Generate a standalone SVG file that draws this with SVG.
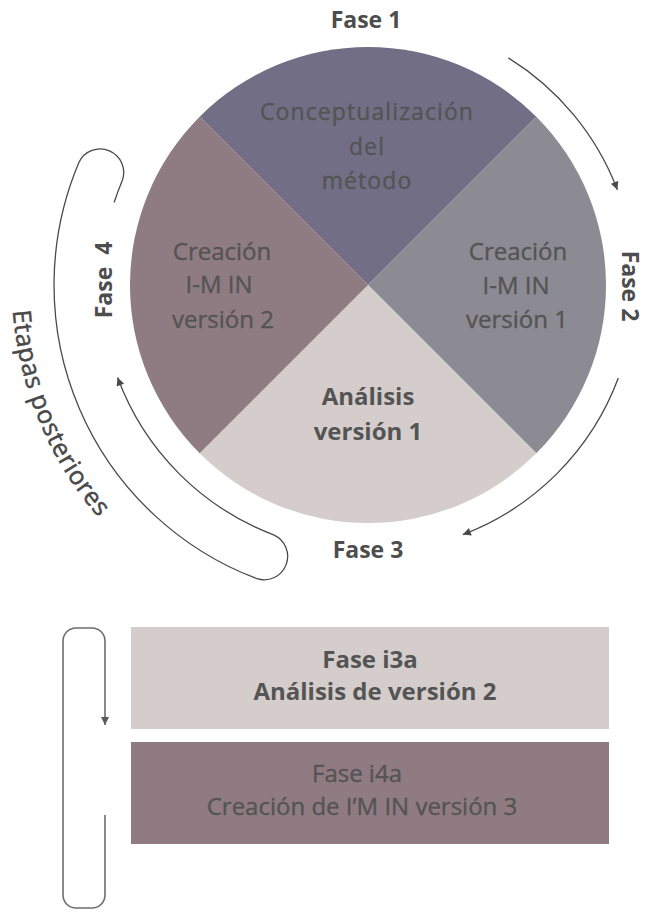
<svg xmlns="http://www.w3.org/2000/svg" width="646" height="914" viewBox="0 0 646 914">
  <style>
    .txt { font-family: "Open Sans", "Liberation Sans", sans-serif; fill: #545454; text-anchor: middle; }
    .reg { font-size: 24px; stroke: #545454; stroke-width: 0.35; }
    .bold { font-size: 24px; font-weight: bold; }
    .label { font-family: "Open Sans", "Liberation Sans", sans-serif; font-size: 23px; font-weight: bold; fill: #4d4d4d; text-anchor: middle; }
    .conn { fill: none; stroke: #4a4a4a; stroke-width: 1.3; }
    .loop { fill: none; stroke: #6e6e6e; stroke-width: 1.6; }
  </style>
  <defs>
    <marker id="arrow" viewBox="0 0 10 10" refX="10" refY="5" markerWidth="9" markerHeight="8" markerUnits="userSpaceOnUse" orient="auto">
      <path d="M0,0 L10,5 L0,10 z" fill="#4a4a4a"/>
    </marker>
    <marker id="arrow-grey" viewBox="0 0 10 10" refX="10" refY="5" markerWidth="9" markerHeight="8" markerUnits="userSpaceOnUse" orient="auto">
      <path d="M0,0 L10,5 L0,10 z" fill="#5a5a5a"/>
    </marker>
    <!-- baseline arc for the curved side label, centred on the wheel (190deg to 125deg) -->
    <path id="etapas-arc" d="M 17.4,223.2 A 356,356 0 0 0 163.8,576.6"/>
  </defs>

  <rect width="646" height="914" fill="#ffffff"/>

  <!-- wheel: four quarter sectors around (368,285), r=238 -->
  <g id="fase1">
    <path d="M368,285 L199.7,116.7 A238,238 0 0 1 536.3,116.7 Z" fill="#716e85"/>
    <text class="txt reg" x="367" y="120" style="font-size:23px;letter-spacing:1.1px">Conceptualización</text>
    <text class="txt reg" x="367" y="155" style="font-size:23px;letter-spacing:1.1px">del</text>
    <text class="txt reg" x="367" y="189" style="font-size:23px;letter-spacing:1.1px">método</text>
    <text class="label" x="366" y="28">Fase 1</text>
  </g>

  <g id="fase2">
    <path d="M368,285 L536.3,116.7 A238,238 0 0 1 536.3,453.3 Z" fill="#8c8a92"/>
    <text class="txt reg" x="518" y="260">Creación</text>
    <text class="txt reg" x="516" y="294">I-M IN</text>
    <text class="txt reg" x="517" y="328">versión 1</text>
    <text class="label" transform="translate(622,286) rotate(90)">Fase 2</text>
  </g>

  <g id="fase3">
    <path d="M368,285 L536.3,453.3 A238,238 0 0 1 199.7,453.3 Z" fill="#d4cdcb"/>
    <text class="txt bold" x="368" y="405">Análisis</text>
    <text class="txt bold" x="368" y="440">versión 1</text>
    <text class="label" x="368" y="558">Fase 3</text>
  </g>

  <g id="fase4">
    <path d="M368,285 L199.7,453.3 A238,238 0 0 1 199.7,116.7 Z" fill="#8f7b82"/>
    <text class="txt reg" x="222" y="260">Creación</text>
    <text class="txt reg" x="219" y="293">I-M IN</text>
    <text class="txt reg" x="223" y="328">versión 2</text>
    <text class="label" transform="translate(112,280) rotate(-90)" xml:space="preserve">Fase  4</text>
  </g>

  <g id="etapas-posteriores">
    <text style="font-family:'Open Sans','Liberation Sans',sans-serif;font-size:25px;fill:#484848;stroke:#484848;stroke-width:0.5;letter-spacing:0.6px;text-anchor:middle">
      <textPath href="#etapas-arc" startOffset="50%">Etapas posteriores</textPath>
    </text>
  </g>

  <!-- later-stage boxes -->
  <g id="fase-i3a">
    <rect x="131" y="627" width="478" height="102" fill="#d4cdcb"/>
    <text class="txt bold" x="370" y="668">Fase i3a</text>
    <text class="txt bold" x="375" y="700">Análisis de versión 2</text>
  </g>

  <g id="fase-i4a">
    <rect x="131" y="742" width="478" height="102" fill="#8f7b81"/>
    <text class="txt reg" x="357" y="782">Fase i4a</text>
    <text class="txt reg" x="362" y="815">Creación de I’M IN versión 3</text>
  </g>

  <!-- connectors: arcs r=267 / 314 around the wheel, plus the box loop -->
  <g id="connectors">
    <path class="conn" d="M508.3,57.8 A267,267 0 0 1 617.4,189.8" marker-end="url(#arrow)"/>
    <path class="conn" d="M618.3,378.1 A267,267 0 0 1 462.8,534.6" marker-end="url(#arrow)"/>
    <path class="conn" d="M114.1,202.5 A267,267 0 0 1 122.2,180.7 A23.5,23.5 0 0 0 79.0,162.3 A314,314 0 0 0 257.0,578.7 A23.5,23.5 0 0 0 273.6,534.8 A267,267 0 0 1 117.6,377.6" marker-end="url(#arrow)"/>
    <path class="loop" d="M105,815 V895 A13,13 0 0 1 92,908 H76 A13,13 0 0 1 63,895 V641 A13,13 0 0 1 76,628 H92 A13,13 0 0 1 105,641 V725" marker-end="url(#arrow-grey)"/>
  </g>
</svg>
